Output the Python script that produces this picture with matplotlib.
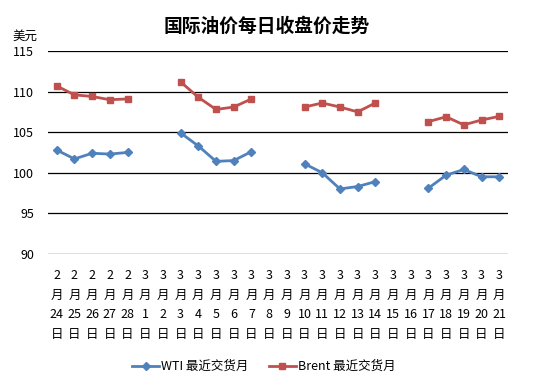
import matplotlib
matplotlib.use("Agg")
import matplotlib.pyplot as plt
import numpy as np

plt.rcParams['font.family'] = ['Noto Sans CJK SC', 'DejaVu Sans']

# dates on the x axis
months = [2] * 5 + [3] * 21
days = list(range(24, 29)) + list(range(1, 22))

nan = np.nan
wti = [102.8, 101.7, 102.4, 102.3, 102.5, nan, nan,
       104.9, 103.3, 101.4, 101.5, 102.6, nan, nan,
       101.1, 100.0, 98.0, 98.3, 98.9, nan, nan,
       98.1, 99.7, 100.4, 99.5, 99.5]
brent = [110.7, 109.6, 109.4, 109.0, 109.1, nan, nan,
         111.2, 109.3, 107.8, 108.1, 109.1, nan, nan,
         108.1, 108.6, 108.1, 107.5, 108.6, nan, nan,
         106.3, 106.9, 105.9, 106.5, 106.95]

labels = [f"{m}\n月\n{d}\n日" for m, d in zip(months, days)]
x = np.arange(len(labels))

fig = plt.figure(figsize=(5.44, 3.84), dpi=100)
ax = fig.add_axes([0.088, 0.339, 0.846, 0.528])

ax.plot(x, wti, color='#4F81BD', marker='D', markersize=4, linewidth=2,
        label='WTI 最近交货月')
ax.plot(x, brent, color='#C0504D', marker='s', markersize=5, linewidth=2,
        label='Brent 最近交货月')

ax.set_ylim(90, 115)
ax.set_yticks(range(90, 116, 5))
ax.set_xlim(-0.5, len(labels) - 0.5)
ax.set_xticks(x)
ax.set_xticklabels(labels, fontsize=9, linespacing=1.65)
ax.tick_params(axis='both', length=0, labelsize=9)
ax.tick_params(axis='x', pad=11)
ax.tick_params(axis='y', pad=10)
ax.grid(axis='y', color='black', linewidth=0.9)
ax.set_axisbelow(True)
for s in ax.spines.values():
    s.set_visible(False)

fig.text(0.49, 0.932, '国际油价每日收盘价走势', ha='center', va='center',
         fontsize=13.5, fontweight='bold')
fig.text(0.046, 0.905, '美元', ha='center', va='center', fontsize=9)

fig.legend(loc='center', bbox_to_anchor=(0.485, 0.045), ncol=2, frameon=False,
           fontsize=9, handlelength=2.2, handletextpad=0.15, columnspacing=1.6)

fig.savefig('out.png', dpi=100)
